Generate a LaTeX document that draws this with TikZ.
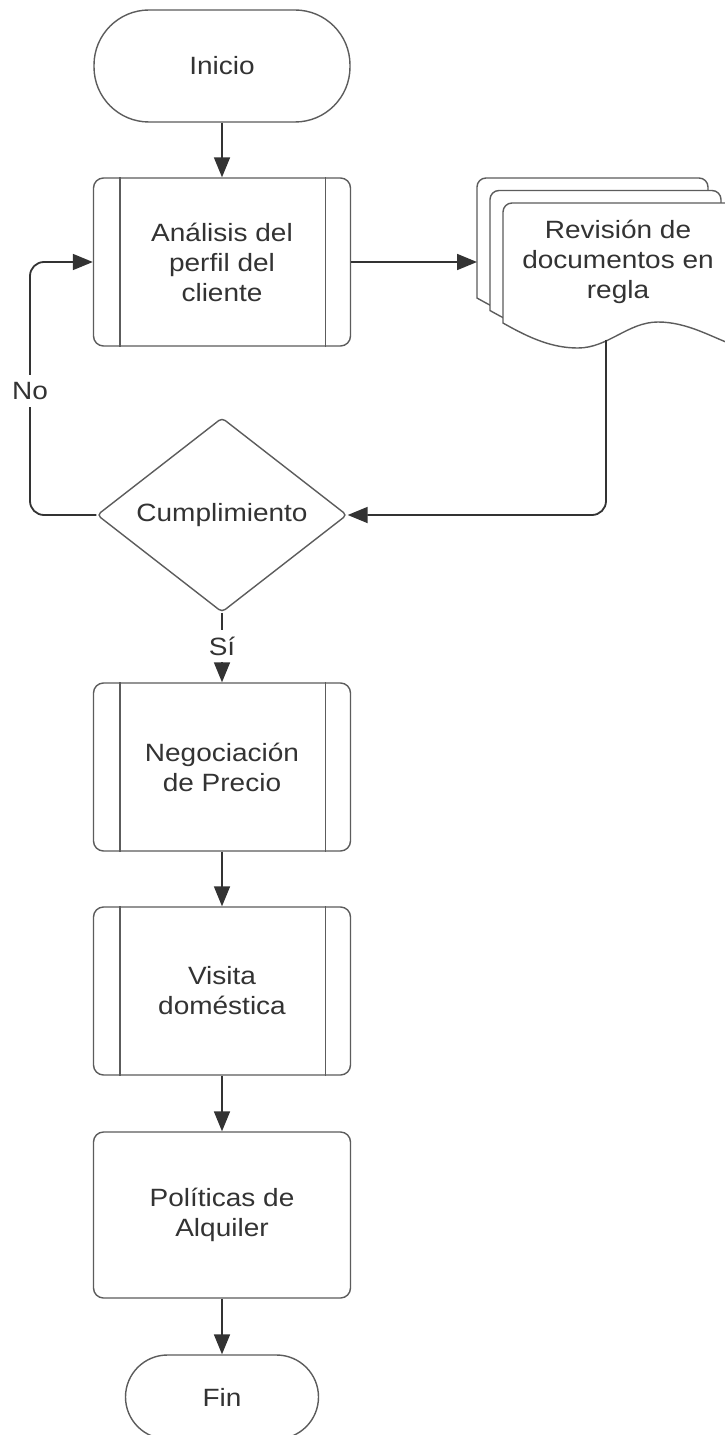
\documentclass[tikz,border=0pt]{standalone}
\usepackage{fontspec}
\setmainfont{Liberation Sans}[FakeStretch=1.12]
\usetikzlibrary{shapes.geometric,arrows.meta}

\definecolor{edgegray}{HTML}{5C5C5C}
\definecolor{conngray}{HTML}{333333}
\definecolor{textgray}{HTML}{333333}

\tikzset{
  outline/.style={draw=edgegray, line width=1.4bp, fill=white},
  term/.style={outline, rectangle, align=center},
  proc/.style={outline, rectangle, rounded corners=10bp, minimum width=257bp,
    minimum height=168bp, align=center},
  decision/.style={outline, diamond, rounded corners=4bp, minimum width=250bp,
    minimum height=162bp, inner sep=0pt},
  conn/.style={draw=conngray, line width=1.8bp,
    -{Triangle[length=20bp,width=16bp]}},
  lbl/.style={fill=white, inner sep=2bp, minimum height=32bp, text=textgray},
  sheet/.style={draw=edgegray, line width=1.4bp, fill=white}
}

\begin{document}
\begin{tikzpicture}[x=1bp, y=-1bp,
  font=\fontsize{25bp}{30bp}\selectfont, text=textgray]
  \fill[white] (0,0) rectangle (724,1435);
  \useasboundingbox (0,0) rectangle (724,1435);

  % start / end terminators
  \node[term, rounded corners=55bp, minimum width=256bp, minimum height=112bp]
    (ini) at (222,66) {Inicio};
  \node[term, rounded corners=42bp, minimum width=193bp, minimum height=84bp]
    (fin) at (222,1397) {Fin};

  % process boxes
  \node[proc] (a1) at (222,262) {Análisis del\\perfil del\\cliente};
  \node[proc] (a2) at (222,767) {Negociación\\de Precio};
  \node[proc] (a3) at (222,991) {Visita\\doméstica};
  \node[proc, minimum height=166bp] (a4) at (222,1215) {Políticas de\\Alquiler};

  % side bars of the predefined-process boxes
  \foreach \n in {a1,a2,a3}{
    \draw[edgegray, line width=1.4bp] ([xshift=27bp]\n.north west) -- ([xshift=27bp]\n.south west);
    \draw[edgegray, line width=1.4bp] ([xshift=-26bp]\n.north east) -- ([xshift=-26bp]\n.south east);
  }

  % stacked documents
  \foreach \dx/\dy in {477/178, 490/190.5, 503/203}{
    \begin{scope}[shift={(\dx,\dy)}]
      \path[sheet] (0,120) [rounded corners=9bp] -- (0,0) -- (231,0) -- (231,60)
        [sharp corners] -- (231,142)
        .. controls (210,135) and (185,119) .. (155,119)
        .. controls (125,119) and (105,145) .. (75,145)
        .. controls (50,145) and (28,136) .. (0,120) -- cycle;
    \end{scope}
  }
  \node[align=center] (rev) at (618,262) {Revisión de\\documentos en\\regla};
  \coordinate (docin) at (477,262);
  \coordinate (docout) at (606,340);

  % decision
  \node[decision] (dec) at (222,515) {Cumplimiento};
  \coordinate (lp) at (30,391);

  % connectors
  \draw[conn] (ini.south) -- (a1.north);
  \draw[conn] (a1.east) -- (docin);
  \draw[conn, rounded corners=14bp] (docout) |- (dec.east);
  \draw[conn, rounded corners=14bp] (dec.west) -| (lp) |- (a1.west);
  \node[lbl] at (lp) {No};
  \draw[conn] (dec.south) -- node[lbl, pos=0.48] {Sí} (a2.north);
  \draw[conn] (a2.south) -- (a3.north);
  \draw[conn] (a3.south) -- (a4.north);
  \draw[conn] (a4.south) -- (fin.north);
\end{tikzpicture}
\end{document}
